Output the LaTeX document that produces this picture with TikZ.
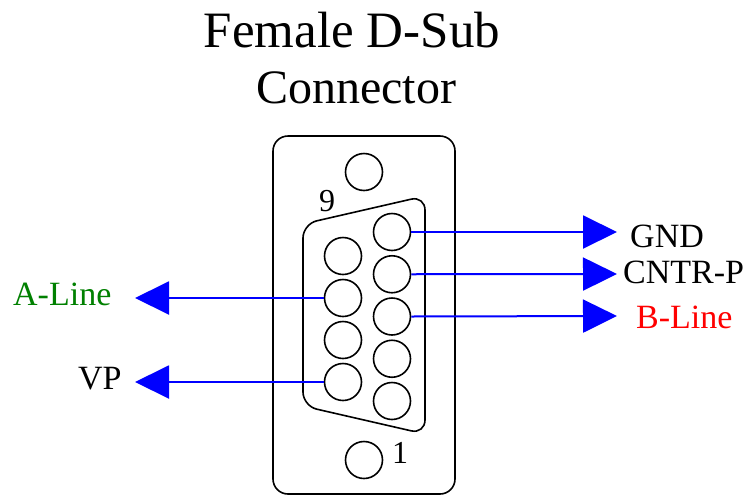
\documentclass[tikz,border=0pt]{standalone}
\usepackage{fontspec}
\setmainfont{Liberation Serif}
\usetikzlibrary{arrows.meta}

\begin{document}
\begin{tikzpicture}[x=1pt,y=-1pt,
  pin/.style={draw,circle,line width=1.6pt,minimum size=37pt,inner sep=0pt},
  wire/.style={blue,line width=2pt,-{Triangle[length=34pt,width=33pt]}},
  lbl/.style={anchor=base west,inner sep=0pt,font=\fontsize{34}{40}\selectfont}]
\useasboundingbox (0,0) rectangle (747,496);
% title
\node[anchor=base,font=\fontsize{51}{60}\selectfont] (title) at (352,47) {Female D-Sub};
\node[anchor=base,font=\fontsize{48}{58}\selectfont] (title2) at (356,103) {Connector};
% shell and mounting holes
\draw[line width=1.6pt,rounded corners=15pt] (273,136) rectangle (455,494);
\node[pin] (holetop) at (364,172) {};
\node[pin] (holebot) at (364,460) {};
\draw[line width=1.6pt,rounded corners=14pt] (303,224) -- (425,196) -- (425,434) -- (303,406) -- cycle;
% pins 1-5 right, 6-9 left
\foreach \i in {1,...,5}
  \node[pin] (pin\i) at (392,{401-42.25*(\i-1)}) {};
\foreach \i in {6,...,9}
  \node[pin] (pin\i) at (343,{382-42*(\i-6)}) {};
\node[anchor=base,inner sep=0pt,font=\fontsize{32}{38}\selectfont] (n9) at (327,211) {9};
\node[anchor=base,inner sep=0pt,font=\fontsize{32}{38}\selectfont] (n1) at (400,463) {1};
% arrow ends
\coordinate (gndtip) at (617,232);
\coordinate (cntrtip) at (617,274);
\coordinate (btip) at (617,316);
\coordinate (atip) at (135,298);
\coordinate (vptip) at (135,382);
\draw[wire] (pin5.east) -- (gndtip);
\draw[wire] (pin4.east) -- (cntrtip);
\draw[wire] (pin3.east) -- (btip);
\draw[wire] (pin8.west) -- (atip);
\draw[wire] (pin6.west) -- (vptip);
% signal names
\node[lbl] (gnd) at (630,247) {GND};
\node[lbl] (cntr) at (623,283) {CNTR-P};
\node[lbl,red] (bline) at (636,328) {B-Line};
\node[lbl,green!50!black] (aline) at (13,305) {A-Line};
\node[lbl] (vp) at (78,389) {VP};
\end{tikzpicture}
\end{document}
